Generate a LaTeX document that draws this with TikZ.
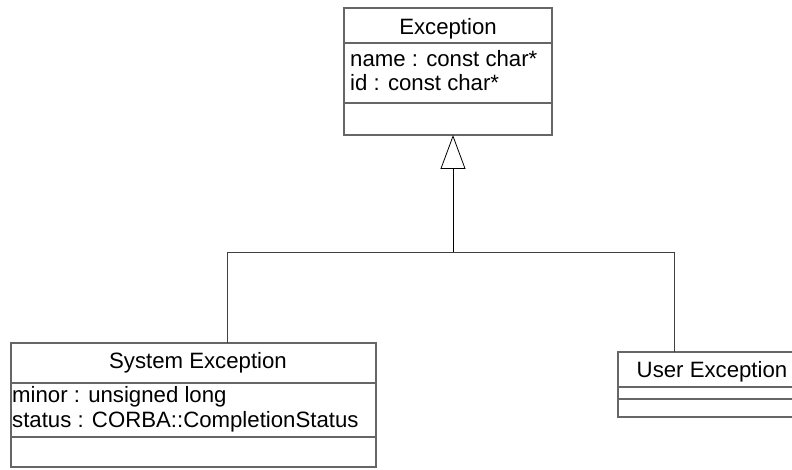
\documentclass[tikz,border=0pt]{standalone}
\usepackage{fontspec}
\setmainfont{Liberation Sans}
\usetikzlibrary{arrows.meta}
\begin{document}
\begin{tikzpicture}[x=1pt,y=-1pt,
  comp/.style={draw=black!60, line width=1.1pt, anchor=north west, inner sep=0pt, outer sep=0pt},
  txt/.style={inner sep=0pt, font=\fontsize{22.2}{25}\selectfont},
  title/.style={txt, anchor=base},
  attr/.style={txt, anchor=base west},
  conn/.style={draw=black!75, line width=0.9pt},
  gen/.style={draw=black, line width=0.8pt, -{Triangle[open,length=34pt,width=25pt,line width=0.8pt]}}]
\useasboundingbox (0,0) rectangle (792,470);
\clip (0,0) rectangle (792,470);
% Exception
\node[comp, minimum width=208pt, minimum height=35pt] (exct) at (344,8) {};
\node[title] (exctxt) at (448,35) {Exception};
\node[comp, minimum width=208pt, minimum height=60pt] (exca) at (344,43) {};
\node[attr] (exc1) at (350,67) {name : const char*};
\node[attr] (exc2) at (350,91) {id : const char*};
\node[comp, minimum width=208pt, minimum height=32pt] (exco) at (344,103) {};
% System Exception
\node[comp, minimum width=365pt, minimum height=40pt] (syst) at (11,343) {};
\node[title] (systxt) at (198,368) {System Exception};
\node[comp, minimum width=365pt, minimum height=54pt] (sysa) at (11,383) {};
\node[attr] (sys1) at (12,402) {minor : unsigned long};
\node[attr] (sys2) at (12,427) {status : CORBA::CompletionStatus};
\node[comp, minimum width=365pt, minimum height=30pt] (syso) at (11,437) {};
% User Exception
\node[comp, minimum width=190pt, minimum height=35pt] (usert) at (618,352) {};
\node[title] (usertxt) at (712,377) {User Exception};
\node[comp, minimum width=190pt, minimum height=12pt] (usera) at (618,387) {};
\node[comp, minimum width=190pt, minimum height=18pt] (usero) at (618,399) {};
% connectors
\coordinate (j) at (453,252);
\coordinate (jl) at (227,252);
\coordinate (jr) at (674,252);
\draw[gen] (j) -- (j |- exco.south);
\draw[conn] (jl) -- (jr);
\draw[conn] (jl) -- (jl |- syst.north);
\draw[conn] (jr) -- (jr |- usert.north);
\end{tikzpicture}
\end{document}
